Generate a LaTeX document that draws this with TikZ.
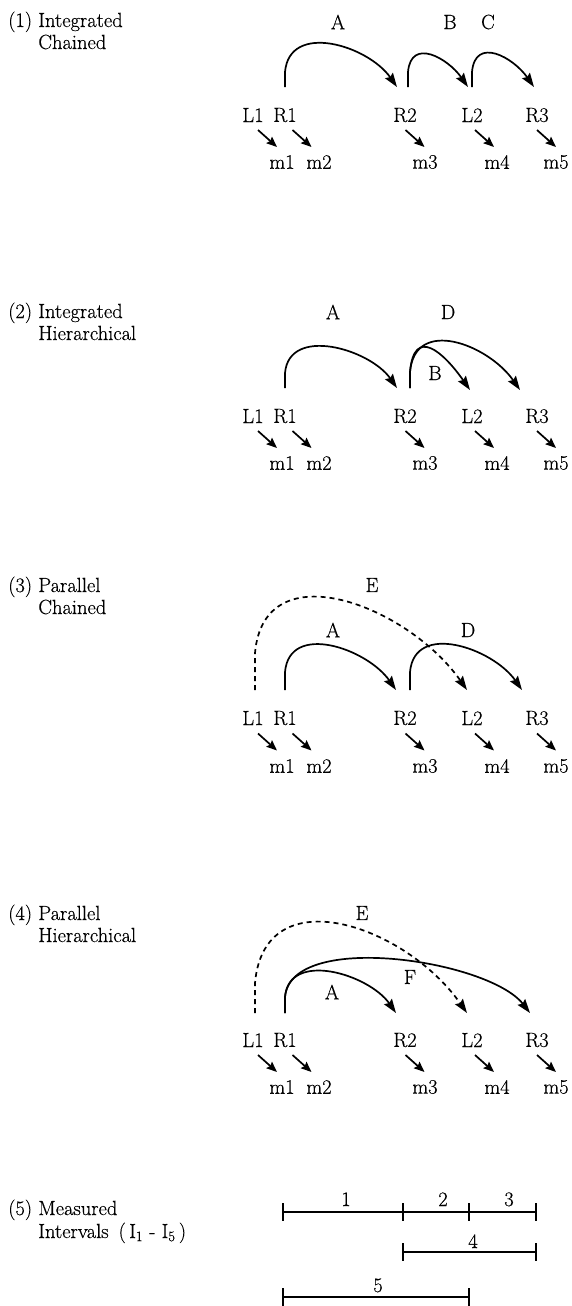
\documentclass[tikz,border=0pt]{standalone}
\usepackage{fontspec}
\usetikzlibrary{arrows.meta,calc}
\newfontfamily\figrm{Latin Modern Roman}[FakeBold=0.4]
\newcommand\figfont{\figrm\fontsize{20.5}{24}\selectfont}
\newcommand\wordrow[3]{%
  \node[lab] (L1#1) at (253,-#2) {L1};
  \node[lab] (R1#1) at (285,-#2) {R1};
  \node[lab] (R2#1) at (405,-#2) {R2};
  \node[lab] (L2#1) at (472,-#2) {L2};
  \node[lab] (R3#1) at (537,-#2) {R3};
  \node[lab] (m1#1) at (282,-#3) {m1};
  \node[lab] (m2#1) at (319,-#3) {m2};
  \node[lab] (m3#1) at (425,-#3) {m3};
  \node[lab] (m4#1) at (497,-#3) {m4};
  \node[lab] (m5#1) at (556,-#3) {m5};
  \foreach \p/\q in {L1/m1,R1/m2,R2/m3,L2/m4,R3/m5}
    \draw[sarrow] ($(\p#1)!0.5!(\q#1)+(-9.5,8.5)$) -- ($(\p#1)!0.5!(\q#1)+(9.5,-8.5)$);
}
\begin{document}
\begin{tikzpicture}[x=1pt,y=1pt,
  lab/.style={inner sep=0pt, font=\figfont},
  ttl/.style={inner sep=0pt, font=\figfont, anchor=base west},
  arc/.style={line width=1.7pt, -{Stealth[length=14pt,width=9.5pt,inset=2pt]}},
  darc/.style={arc, dash pattern=on 5pt off 4pt},
  sarrow/.style={line width=1.7pt, -{Stealth[length=10.5pt,width=8.5pt,inset=1.5pt]}},
  ival/.style={line width=1.7pt},
  tick/.style={line width=1.7pt},
]
\useasboundingbox (0,0) rectangle (571,-1306);

% ---------- titles ----------
\node[ttl] (t1a) at (8,-27) {(1) Integrated};
\node[ttl] (t1b) at (8,-49) {\phantom{(1) }Chained};
\node[ttl] (t2a) at (8,-318) {(2) Integrated};
\node[ttl] (t2b) at (8,-340) {\phantom{(2) }Hierarchical};
\node[ttl] (t3a) at (8,-592) {(3) Parallel};
\node[ttl] (t3b) at (8,-614) {\phantom{(3) }Chained};
\node[ttl] (t4a) at (8,-920) {(4) Parallel};
\node[ttl] (t4b) at (8,-942) {\phantom{(4) }Hierarchical};
\node[ttl] (t5a) at (8,-1215) {(5) Measured};
\node[ttl] (t5b) at (8,-1238) {\phantom{(5) }Intervals\hspace{10pt}(\,I\textsubscript{1} - I\textsubscript{5}\,)};

% ---------- panel 1 ----------
\wordrow{a}{115}{162}
\node[lab] (Aa) at (338,-22) {A};
\node[lab] (Ba) at (450,-22) {B};
\node[lab] (Ca) at (488,-22) {C};
\draw[arc] ([yshift=28]R1a.center) -- ++(0,15) to[out=85,in=125,looseness=1.15] ([shift={(-8,28)}]R2a.center);
\draw[arc] ([shift={(3,28)}]R2a.center) -- ++(0,15) to[out=85,in=125,looseness=1.45] ([shift={(-4,28)}]L2a.center);
\draw[arc] ([yshift=28]L2a.center) -- ++(0,15) to[out=85,in=125,looseness=1.45] ([shift={(-3,28)}]R3a.center);

% ---------- panel 2 ----------
\wordrow{b}{416}{463}
\node[lab] (Ab) at (333,-312) {A};
\node[lab] (Db) at (448,-312) {D};
\node[lab] (Bb) at (435,-373) {B};
\draw[arc] ([yshift=28]R1b.center) -- ++(0,15) to[out=85,in=125,looseness=1.08] ([shift={(-8,28)}]R2b.center);
\draw[arc] ([shift={(5,28)}]R2b.center) -- ++(0,16) to[out=85,in=125,looseness=1.9] ([shift={(-2,26)}]L2b.center);
\draw[arc] ([shift={(5,28)}]R2b.center) -- ++(0,16) to[out=85,in=125,looseness=1.28] ([shift={(-17,26)}]R3b.center);

% ---------- panel 3 ----------
\wordrow{c}{718}{766}
\node[lab] (Ec) at (372,-585) {E};
\node[lab] (Ac) at (333,-630) {A};
\node[lab] (Dc) at (468,-630) {D};
\draw[darc] ([shift={(2,28)}]L1c.center) -- ++(0,37) to[out=85,in=125,looseness=1.23] ([shift={(-5,28)}]L2c.center);
\draw[arc] ([yshift=28]R1c.center) -- ++(0,18) to[out=85,in=125,looseness=1.15] ([shift={(-9,28)}]R2c.center);
\draw[arc] ([shift={(5,28)}]R2c.center) -- ++(0,18) to[out=85,in=125,looseness=1.15] ([shift={(-15,28)}]R3c.center);

% ---------- panel 4 ----------
\wordrow{d}{1040}{1087}
\node[lab] (Ed) at (362,-913) {E};
\node[lab] (Fd) at (410,-977) {F};
\node[lab] (Ad) at (332,-992) {A};
\draw[darc] ([shift={(2,27)}]L1d.center) -- ++(0,30) to[out=85,in=125,looseness=1.28] ([shift={(-5,27)}]L2d.center);
\draw[arc] ([yshift=27]R1d.center) -- ++(0,16) to[out=85,in=128,looseness=0.7] ([shift={(-7,27)}]R3d.center);
\draw[arc] ([yshift=27]R1d.center) -- ++(0,16) to[out=85,in=125,looseness=1.08] ([shift={(-9,27)}]R2d.center);

% ---------- panel 5 ----------
\coordinate (k1) at (283,-1212);
\coordinate (k2) at (403,-1212);
\coordinate (k3) at (469,-1212);
\coordinate (k4) at (536,-1212);
\coordinate (u1) at (403,-1252);
\coordinate (u2) at (536,-1252);
\coordinate (v1) at (283,-1297);
\coordinate (v2) at (469,-1297);
\draw[ival] (k1) -- (k4);
\draw[ival] (u1) -- (u2);
\draw[ival] (v1) -- (v2);
\foreach \c in {k1,k2,k3,k4,u1,u2,v1,v2}
  \draw[tick] ([yshift=9]\c) -- ([yshift=-9]\c);
\node[lab, anchor=base] (n1) at (346,-1206) {1};
\node[lab, anchor=base] (n2) at (443,-1206) {2};
\node[lab, anchor=base] (n3) at (509,-1206) {3};
\node[lab, anchor=base] (n4) at (473,-1248) {4};
\node[lab, anchor=base] (n5) at (378,-1292) {5};
\end{tikzpicture}
\end{document}
